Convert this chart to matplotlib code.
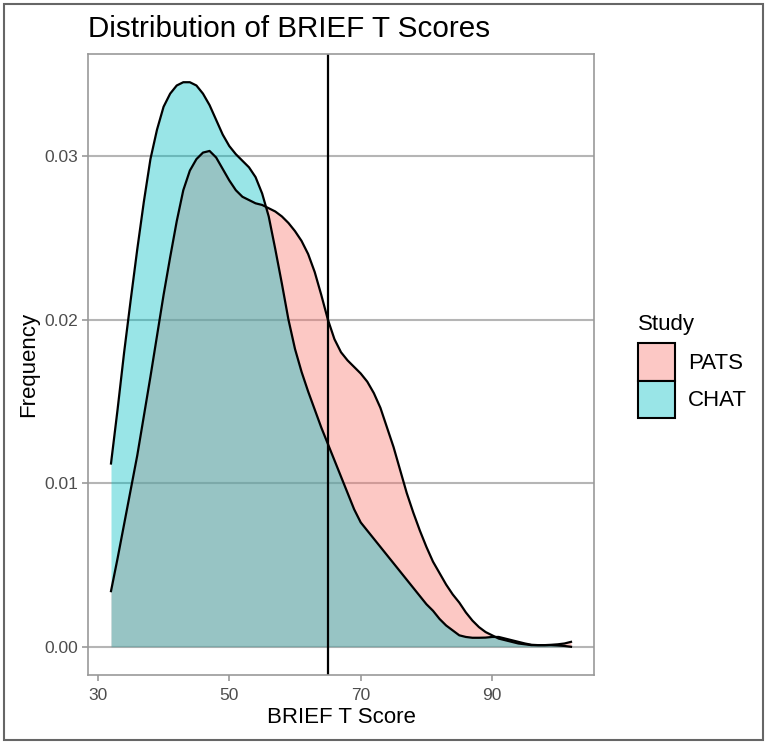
import matplotlib
matplotlib.use("Agg")
import matplotlib.pyplot as plt
import matplotlib.colors as mcolors
from matplotlib.patches import Patch, Rectangle

plt.rcParams['font.family'] = ['Liberation Sans', 'DejaVu Sans']

# ---- data ----
study_labels = ["PATS", "CHAT"]
score_grid = list(range(32, 103))
pats_density = [
    0.0034, 0.0054, 0.0075, 0.0096, 0.0117, 0.0141, 0.0165, 0.0190, 0.0215, 0.0238,  # 32-41
    0.0260, 0.0279, 0.0291, 0.0298, 0.0302, 0.0303, 0.0299, 0.0292, 0.0285, 0.0279,  # 42-51
    0.0275, 0.0273, 0.0271, 0.0270, 0.0268, 0.0266, 0.0263, 0.0259, 0.0254, 0.0248,  # 52-61
    0.0240, 0.0229, 0.0215, 0.0200, 0.0188, 0.0180, 0.0175, 0.0171, 0.0167, 0.0162,  # 62-71
    0.0155, 0.0146, 0.0134, 0.0122, 0.0108, 0.0094, 0.0082, 0.0071, 0.0061, 0.0052,  # 72-81
    0.0045, 0.0038, 0.0032, 0.0027, 0.0021, 0.0016, 0.0012, 0.0009, 0.0007, 0.0005,  # 82-91
    0.0004, 0.0003, 0.0002, 0.00015, 0.0001, 0.0001, 0.0001, 0.00012, 0.00015, 0.0002,  # 92-101
    0.0003]                                                                              # 102
chat_density = [
    0.0112, 0.0145, 0.0180, 0.0212, 0.0243, 0.0272, 0.0298, 0.0316, 0.0330, 0.0338,  # 32-41
    0.0343, 0.0345, 0.0345, 0.0343, 0.0338, 0.0331, 0.0322, 0.0313, 0.0306, 0.0301,  # 42-51
    0.0297, 0.0293, 0.0287, 0.0277, 0.0263, 0.0243, 0.0222, 0.0200, 0.0182, 0.0168,  # 52-61
    0.0156, 0.0145, 0.0134, 0.0124, 0.0114, 0.0104, 0.0094, 0.0084, 0.0076, 0.0071,  # 62-71
    0.0066, 0.0061, 0.0056, 0.0051, 0.0046, 0.0041, 0.0036, 0.0031, 0.0026, 0.0022,  # 72-81
    0.0017, 0.0013, 0.0010, 0.0007, 0.0006, 0.00055, 0.00055, 0.00056, 0.0006, 0.0006,  # 82-91
    0.0005, 0.0004, 0.0003, 0.0002, 0.00012, 0.0001, 0.0001, 0.0001, 0.00008, 0.00005,  # 92-101
    0.0]                                                                                 # 102
cutoff = 65
x_ticks = [30, 50, 70, 90]
y_ticks = [0.00, 0.01, 0.02, 0.03]
y_tick_labels = ["0.00", "0.01", "0.02", "0.03"]

colors = {"PATS": "#F8766D", "CHAT": "#00BFC4"}
series = {"PATS": pats_density, "CHAT": chat_density}

W, H = 768, 746
fig = plt.figure(figsize=(W / 100, H / 100), dpi=100)
fig.patch.set_facecolor("white")

# outer border
fig.patches.append(Rectangle((4 / W, 6 / H), 759 / W, 736 / H, transform=fig.transFigure,
                             fill=False, edgecolor="#666666", linewidth=1.5))

ax = fig.add_axes([88 / W, 1 - 675 / H, (594 - 88) / W, (675 - 54) / H])

for lab in study_labels:
    ax.fill_between(score_grid, series[lab], 0, color=colors[lab], alpha=0.4, linewidth=0)
    ax.plot(score_grid, series[lab], color="black", linewidth=1.6,
            solid_joinstyle="round")

ax.axvline(cutoff, color="black", linewidth=1.6)

xmin, xmax = min(score_grid), max(score_grid)
xpad = (xmax - xmin) * 0.05
ax.set_xlim(xmin - xpad, xmax + xpad)
ymax = max(max(pats_density), max(chat_density))
ax.set_ylim(-ymax * 0.05, ymax * 1.05)

ax.set_xticks(x_ticks)
ax.set_yticks(y_ticks)
ax.set_yticklabels(y_tick_labels)
ax.grid(axis="y", color="#b5b5b5", linewidth=1.5)
ax.grid(axis="x", visible=False)
ax.set_axisbelow(True)
for sp in ax.spines.values():
    sp.set_color("#999999")
    sp.set_linewidth(1.2)
ax.tick_params(axis="both", colors="#999999", labelcolor="#4d4d4d", labelsize=12.5,
               length=4, width=1.2)
ax.tick_params(axis="x", pad=5)
ax.tick_params(axis="y", pad=3)

ax.set_xlabel("BRIEF T Score", fontsize=16, color="black", labelpad=3)
ax.set_ylabel("Frequency", fontsize=16, color="black", labelpad=4)

fig.text(88 / W, 1 - 37 / H, "Distribution of BRIEF T Scores", fontsize=21.3,
         ha="left", va="baseline", color="black")

handles = []
for lab in study_labels:
    r, g, b = mcolors.to_rgb(colors[lab])
    light = (1 - 0.4 * (1 - r), 1 - 0.4 * (1 - g), 1 - 0.4 * (1 - b))
    handles.append(Patch(facecolor=light, edgecolor="black", linewidth=1.5))

leg = fig.legend(handles=handles, labels=study_labels, title="Study",
                 loc="upper left", bbox_to_anchor=(627 / W, 1 - 303 / H),
                 frameon=False, fontsize=16, title_fontsize=16,
                 handlelength=1.65, handleheight=2.2, labelspacing=0.0,
                 handletextpad=0.6, borderpad=0, alignment="left")
leg._legend_box.sep = 6

fig.savefig("out.png", dpi=100)
